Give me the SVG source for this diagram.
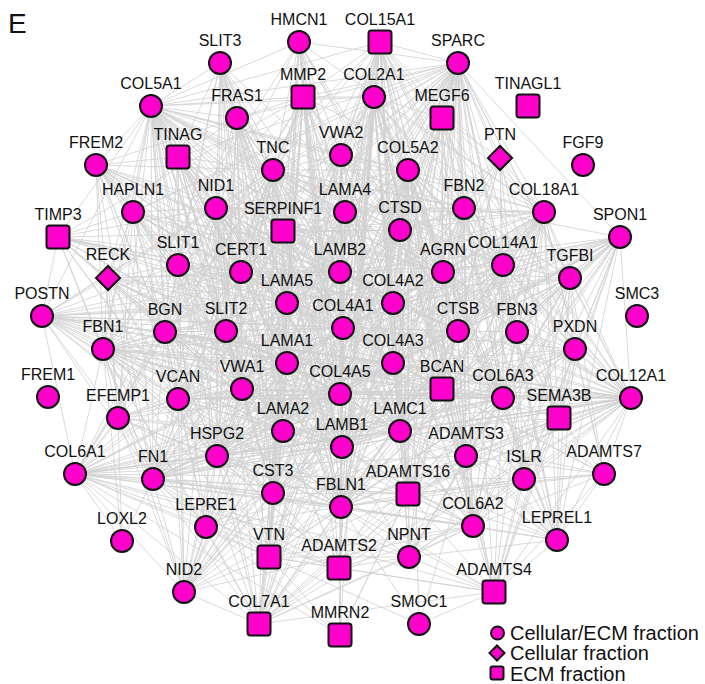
<svg xmlns="http://www.w3.org/2000/svg" xmlns:xlink="http://www.w3.org/1999/xlink" width="705" height="684" viewBox="0 0 705 684">
<style>
.edges path{fill:none;stroke:#d0d0d0;stroke-width:0.8}
.shape{fill:#ff00cc;stroke:#111;stroke-width:2}
.lbl{font-family:"Liberation Sans",Arial,sans-serif;font-size:16px;fill:#111;text-anchor:middle}
.leg{font-family:"Liberation Sans",Arial,sans-serif;font-size:20px;fill:#111}
</style>
<defs>
<circle id="c" class="shape" r="11"/>
<rect id="s" class="shape" x="-11.5" y="-11.5" width="23" height="23" rx="3"/>
<path id="d" class="shape" d="M0 -12L12 0L0 12L-12 0Z"/>
</defs>
<rect width="705" height="684" fill="#fff"/>
<text x="8" y="33" font-family="Liberation Sans, Arial, sans-serif" font-size="28" fill="#111">E</text>
<g id="edges" class="edges">
<path d="M220 63L151 106L299 42M380 42L151 106L458 63M303 97L151 106L374 97M237 118L151 106L96 165M178 157L151 106L273 170M341 155L151 106L408 170M133 212L151 106L216 208M345 212L151 106L464 208M544 212L151 106L283 231M400 230L151 106L178 265M241 272L151 106L340 272M443 272L151 106L503 265M287 303L151 106L393 303M165 332L151 106L226 331M343 328L151 106L458 331M103 349L151 106L287 363M393 363L151 106L178 399M242 389L151 106L340 394M442 389L151 106L503 398M631 398L151 106L283 431M400 431L151 106L342 447M153 479L151 106L217 456M273 493L151 106L341 507M206 527L151 106L473 526M269 557L151 106L339 568M184 592L151 106L259 624M58 237L151 106L108 278M42 316L151 106L118 418"/>
<path d="M380 42L458 63L374 97M442 118L458 63L408 170M341 155L458 63L303 97M299 42L458 63L273 170M237 118L458 63L216 208M345 212L458 63L464 208M544 212L458 63L400 230M283 231L458 63L241 272M340 272L458 63L443 272M503 265L458 63L570 278M287 303L458 63L393 303M343 328L458 63L458 331M517 332L458 63L575 349M287 363L458 63L393 363M340 394L458 63L442 389M503 398L458 63L631 398M559 418L458 63L283 431M400 431L458 63L342 447M466 456L458 63L524 479M217 456L458 63L341 507M408 494L458 63L473 526M557 540L458 63L269 557M409 557L458 63L494 592M153 479L458 63L165 332M178 399L458 63L226 331M242 389L458 63L500 158M620 237L458 63L178 157M133 212L458 63L103 349"/>
<path d="M237 118L220 63L178 157M273 170L220 63L216 208M283 231L220 63L241 272M178 265L220 63L226 331M287 303L220 63L340 272M287 363L220 63L343 328M217 456L220 63L443 272M242 389L220 63L283 431M342 447L220 63L400 431M393 303L220 63L165 332M273 493L220 63L341 507"/>
<path d="M303 97L299 42L273 170M341 155L299 42L345 212M283 231L299 42L340 272M343 328L299 42L287 303M287 363L299 42L341 507M342 447L299 42L340 394M400 431L299 42L216 208M103 349L299 42L544 212M400 230L299 42L443 272M269 557L299 42L503 398"/>
<path d="M374 97L380 42L303 97M341 155L380 42L408 170M345 212L380 42L442 118M464 208L380 42L400 230M340 272L380 42L443 272M393 303L380 42L343 328M393 363L380 42L458 331M340 394L380 42L442 389M400 431L380 42L342 447M283 431L380 42L287 363M216 208L380 42L544 212M503 265L380 42L517 332M408 494L380 42L341 507M503 398L380 42L631 398M217 456L380 42L184 592M339 568L380 42L473 526M269 557L380 42L273 170M380 42L283 231"/>
<path d="M273 170L303 97L341 155M374 97L303 97L237 118M345 212L303 97L283 231M241 272L303 97L340 272M287 303L303 97L343 328M393 303L303 97L287 363M340 394L303 97L393 363M153 479L303 97L217 456M273 493L303 97L341 507M269 557L303 97L165 332M178 399L303 97L58 237M108 278L303 97L544 212M400 230L303 97L443 272M75 474L303 97L259 624M339 568L303 97L226 331M303 97L342 447"/>
<path d="M341 155L374 97L408 170M442 118L374 97L345 212M400 230L374 97L464 208M443 272L374 97L393 303M343 328L374 97L340 272M458 331L374 97L393 363M340 394L374 97L442 389M400 431L374 97L342 447M283 431L374 97L503 398M631 398L374 97L503 265M544 212L374 97L466 456M473 526L374 97L408 494M341 507L374 97L339 568M340 635L374 97L409 557M133 212L374 97L178 399M165 332L374 97L75 474M259 624L374 97L153 479M559 418L374 97L557 540M374 97L494 592"/>
<path d="M178 157L237 118L273 170M216 208L237 118L96 165M283 231L237 118L241 272M178 265L237 118L287 303M340 272L237 118L343 328M287 363L237 118L226 331M242 389L237 118L283 431M217 456L237 118L340 394M400 431L237 118L342 447M443 272L237 118L273 493"/>
<path d="M408 170L442 118L464 208M400 230L442 118L443 272M393 303L442 118L503 265M458 331L442 118L517 332M393 363L442 118L442 389M503 398L442 118L400 431M544 212L442 118L500 158M631 398L442 118L466 456"/>
<path d="M178 157L96 165L133 212M216 208L96 165L178 265M241 272L96 165L287 303M340 272L96 165L343 328M393 303L96 165L287 363M165 332L96 165L226 331M103 349L96 165L178 399M242 389L96 165L283 431M340 394L96 165L342 447M400 431L96 165L217 456M153 479L96 165L443 272M458 331L96 165L503 398M273 170L96 165L118 418"/>
<path d="M273 170L178 157L216 208M133 212L178 157L283 231M241 272L178 157L178 265M287 303L178 157L340 272M343 328L178 157L287 363M393 303L178 157L165 332M226 331L178 157L242 389M283 431L178 157L342 447M400 431L178 157L217 456M340 394L178 157L393 363M341 507L178 157L273 493M443 272L178 157L184 592"/>
<path d="M341 155L273 170L216 208M345 212L273 170L283 231M241 272L273 170L340 272M287 303L273 170L343 328M226 331L273 170L287 363M165 332L273 170L178 399M242 389L273 170L340 394M283 431L273 170L153 479M217 456L273 170L273 493M341 507L273 170L408 170M400 230L273 170L443 272M503 265L273 170L631 398M503 398L273 170L620 237M570 278L273 170L42 316M103 349L273 170L342 447M184 592L273 170L269 557M259 624L273 170L339 568M524 479L273 170L75 474M473 526L273 170L464 208"/>
<path d="M345 212L341 155L283 231M340 272L341 155L400 230M408 170L341 155L343 328M393 303L341 155L287 303M287 363L341 155L393 363M340 394L341 155L283 431M342 447L341 155L400 431M341 507L341 155L443 272M503 398L341 155L473 526M631 398L341 155L503 265M217 456L341 155L216 208"/>
<path d="M345 212L408 170L464 208M400 230L408 170L443 272M503 265L408 170L393 303M340 272L408 170L343 328M458 331L408 170L517 332M393 363L408 170L340 394M442 389L408 170L503 398M400 431L408 170L342 447M283 431L408 170L466 456M524 479L408 170L408 494M341 507L408 170L473 526M409 557L408 170L339 568M269 557L408 170L153 479M165 332L408 170L631 398M559 418L408 170L575 349M570 278L408 170L544 212M557 540L408 170L494 592M259 624L408 170L273 493M419 624L408 170L217 456M178 399L408 170L103 349M216 208L408 170L287 303"/>
<path d="M464 208L500 158L544 212M503 265L500 158L443 272M458 331L500 158L517 332M393 303L500 158L442 389M503 398L500 158L559 418M217 456L500 158L400 230M400 431L500 158L570 278"/>
<path d="M216 208L133 212L178 265M241 272L133 212L165 332M178 399L133 212L226 331M287 303L133 212L343 328M287 363L133 212L242 389M283 431L133 212L217 456M153 479L133 212L103 349M442 389L133 212L443 272M393 303L133 212L340 272M118 418L133 212L341 507M108 278L133 212L58 237"/>
<path d="M283 231L216 208L241 272M178 265L216 208L287 303M340 272L216 208L345 212M343 328L216 208L393 303M287 363L216 208L393 363M340 394L216 208L226 331M165 332L216 208L242 389M283 431L216 208L342 447M400 431L216 208L217 456M153 479L216 208L341 507M443 272L216 208L273 493M184 592L216 208L269 557M103 349L216 208L108 278M75 474L216 208L206 527M400 230L216 208L544 212M458 331L216 208L503 265M464 208L216 208L503 398M442 389L216 208L408 494M473 526L216 208L259 624M58 237L216 208L42 316M118 418L216 208L178 399"/>
<path d="M283 231L345 212L400 230M340 272L345 212L287 303M343 328L345 212L393 303M443 272L345 212L241 272M287 363L345 212L393 363M340 394L345 212L283 431M342 447L345 212L400 431M341 507L345 212L217 456M184 592L345 212L544 212M464 208L345 212L242 389M226 331L345 212L442 389M458 331L345 212L408 494M345 212L273 493"/>
<path d="M400 230L464 208L443 272M503 265L464 208L544 212M393 303L464 208L458 331M517 332L464 208L393 363M442 389L464 208L503 398M400 431L464 208L103 349M341 507L464 208L466 456M473 526L464 208L524 479M570 278L464 208L575 349M559 418L464 208L557 540M631 398L464 208L408 494M409 557L464 208L342 447M343 328L464 208L340 272"/>
<path d="M503 265L544 212L443 272M458 331L544 212L517 332M393 303L544 212L400 230M570 278L544 212L575 349M343 328L544 212L393 363M340 394L544 212L442 389M503 398L544 212L631 398M559 418L544 212L400 431M342 447L544 212L283 431M466 456L544 212L524 479M604 474L544 212L473 526M557 540L544 212L408 494M341 507L544 212L409 557M494 592L544 212L339 568M269 557L544 212L217 456M153 479L544 212L340 272M287 303L544 212L287 363M273 493L544 212L419 624M283 231L544 212L184 592M259 624L544 212L340 635"/>
<path d="M108 278L58 237L178 265M165 332L58 237L103 349M42 316L58 237L241 272M287 303L58 237L343 328M178 399L58 237L226 331M287 363L58 237L242 389M153 479L58 237L217 456M340 272L58 237L400 230M393 303L58 237L458 331M58 237L283 431"/>
<path d="M241 272L283 231L340 272M287 303L283 231L343 328M393 303L283 231L226 331M287 363L283 231L393 363M242 389L283 231L340 394M283 431L283 231L342 447M400 431L283 231L217 456M273 493L283 231L341 507M400 230L283 231L443 272M165 332L283 231L153 479"/>
<path d="M340 272L400 230L443 272M393 303L400 230L343 328M458 331L400 230L393 363M340 394L400 230L442 389M400 431L400 230L342 447M283 431L400 230L287 363M287 303L400 230L503 265M517 332L400 230L503 398M466 456L400 230L408 494M341 507L400 230L273 493M400 230L217 456"/>
<path d="M503 265L620 237L570 278M517 332L620 237L575 349M458 331L620 237L443 272M393 303L620 237L343 328M393 363L620 237L442 389M503 398L620 237L559 418M631 398L620 237L400 431M342 447L620 237L340 394M283 431L620 237L466 456M524 479L620 237L473 526M341 507L620 237L408 494M557 540L620 237L494 592M409 557L620 237L287 363M287 303L620 237L340 272M217 456L620 237L153 479M273 493L620 237L242 389"/>
<path d="M178 265L108 278L165 332M103 349L108 278L241 272M287 303L108 278L226 331M343 328L108 278L287 363M178 399L108 278L242 389M283 431L108 278L217 456M153 479L108 278L42 316M118 418L108 278L393 303M340 272L108 278L393 363M340 394L108 278L342 447M108 278L400 431"/>
<path d="M241 272L178 265L165 332M226 331L178 265L287 303M340 272L178 265L343 328M287 363L178 265L242 389M283 431L178 265L217 456M103 349L178 265L178 399M393 303L178 265L342 447"/>
<path d="M340 272L241 272L287 303M226 331L241 272L343 328M287 363L241 272L242 389M165 332L241 272L393 303"/>
<path d="M287 303L340 272L343 328M393 303L340 272L443 272M287 363L340 272L393 363M340 394L340 272L283 431M342 447L340 272L400 431M217 456L340 272L341 507M184 592L340 272L458 331M340 272L503 265"/>
<path d="M393 303L443 272L343 328M458 331L443 272L503 265M517 332L443 272L393 363M442 389L443 272L503 398M400 431L443 272L342 447M283 431L443 272L287 363M287 303L443 272L217 456M466 456L443 272L473 526M341 507L443 272L631 398M570 278L443 272L575 349M443 272L184 592"/>
<path d="M458 331L503 265L517 332M570 278L503 265L575 349M393 303L503 265L343 328M393 363L503 265L442 389M503 398L503 265L631 398M559 418L503 265L400 431M466 456L503 265L524 479M473 526L503 265L557 540M341 507L503 265L408 494M340 394L503 265L342 447"/>
<path d="M517 332L570 278L575 349M458 331L570 278L393 303M343 328L570 278L503 398M631 398L570 278L559 418M442 389L570 278L466 456M524 479L570 278L473 526M557 540L570 278L341 507M400 431L570 278L153 479M393 363L570 278L409 557M494 592L570 278L604 474M570 278L342 447"/>
<path d="M343 328L287 303L393 303M287 363L287 303L226 331M393 363L287 303L340 394M242 389L287 303L283 431M342 447L287 303L400 431M217 456L287 303L341 507M273 493L287 303L184 592M153 479L287 303L165 332M178 399L287 303L103 349"/>
<path d="M343 328L393 303L393 363M340 394L393 303L458 331M287 363L393 303L442 389M400 431L393 303L342 447M283 431L393 303L503 398M466 456L393 303L217 456M341 507L393 303L184 592M473 526L393 303L408 494"/>
<path d="M103 349L42 316L165 332M178 265L42 316L241 272M226 331L42 316L287 303M343 328L42 316L287 363M178 399L42 316L118 418M242 389L42 316L283 431M217 456L42 316L153 479M75 474L42 316L393 303M340 272L42 316L393 363M340 394L42 316L342 447M400 431L42 316L458 331M442 389L42 316L570 278M631 398L42 316L341 507M42 316L273 493"/>
<path d="M165 332L103 349L226 331M178 399L103 349L118 418M242 389L103 349L287 363M343 328L103 349L283 431M217 456L103 349L153 479M75 474L103 349L206 527M341 507L103 349L273 493M342 447L103 349L400 431M340 394L103 349L393 363M122 541L103 349L184 592M269 557L103 349L339 568M259 624L103 349L503 398M442 389L103 349L458 331M631 398L103 349L494 592M466 456L103 349L473 526"/>
<path d="M226 331L165 332L178 399M242 389L165 332L287 363M343 328L165 332L283 431M217 456L165 332L153 479M118 418L165 332L75 474M273 493L165 332L341 507M206 527L165 332L342 447M340 394L165 332L393 303M393 363L165 332L400 431M442 389L165 332L503 398M165 332L631 398"/>
<path d="M287 363L226 331L242 389M343 328L226 331L283 431M217 456L226 331L178 399M153 479L226 331L340 394M273 493L226 331L342 447"/>
<path d="M393 363L343 328L340 394M287 363L343 328L283 431M342 447L343 328L400 431M458 331L343 328L442 389M217 456L343 328L341 507M273 493L343 328L242 389M184 592L343 328L153 479M269 557L343 328L503 398"/>
<path d="M517 332L458 331L393 363M442 389L458 331L503 398M400 431L458 331L466 456M340 394L458 331L342 447M341 507L458 331L408 494M458 331L273 493"/>
<path d="M575 349L517 332L503 398M559 418L517 332L442 389M466 456L517 332L524 479M631 398L517 332L473 526M557 540L517 332L341 507"/>
<path d="M631 398L575 349L559 418M503 398L575 349L524 479M604 474L575 349L466 456M473 526L575 349L557 540M442 389L575 349L393 363M340 394L575 349L400 431M342 447L575 349L341 507M494 592L575 349L343 328"/>
<path d="M393 363L287 363L242 389M340 394L287 363L283 431M342 447L287 363L400 431M217 456L287 363L273 493M341 507L287 363L153 479M178 399L287 363L184 592M206 527L287 363L269 557"/>
<path d="M340 394L393 363L442 389M400 431L393 363L342 447M283 431L393 363L503 398M466 456L393 363L341 507M408 494L393 363L217 456M393 363L184 592"/>
<path d="M242 389L178 399L118 418M283 431L178 399L217 456M153 479L178 399L75 474M273 493L178 399L341 507M206 527L178 399L340 394M342 447L178 399L269 557M184 592L178 399L259 624M442 389L178 399L503 398M631 398L178 399L400 431M178 399L393 363"/>
<path d="M242 389L118 418L217 456M153 479L118 418L75 474M206 527L118 418L341 507M283 431L118 418L273 493M342 447L118 418L340 394M343 328L118 418L287 363M269 557L118 418L184 592M118 418L122 541"/>
<path d="M283 431L242 389L217 456M340 394L242 389L342 447M273 493L242 389L341 507M206 527L242 389L153 479M503 398L242 389L75 474M242 389L473 526"/>
<path d="M283 431L340 394L342 447M400 431L340 394L442 389M217 456L340 394L341 507M273 493L340 394L184 592M269 557L340 394L503 398"/>
<path d="M503 398L442 389L400 431M466 456L442 389L342 447M341 507L442 389L408 494M524 479L442 389L473 526M217 456L442 389L494 592"/>
<path d="M631 398L503 398L559 418M466 456L503 398L524 479M604 474L503 398L473 526M557 540L503 398L75 474M341 507L503 398L408 494M400 431L503 398L409 557M494 592L503 398L217 456M153 479L503 398L269 557M259 624L503 398L342 447"/>
<path d="M559 418L631 398L524 479M604 474L631 398L473 526M557 540L631 398L466 456M400 431L631 398L342 447M442 389L631 398L341 507M408 494L631 398L393 363M340 394L631 398L283 431M343 328L631 398L217 456M153 479L631 398L242 389M273 493L631 398L287 363M75 474L631 398L259 624M494 592L631 398L409 557M269 557L631 398L339 568M206 527L631 398L393 303M287 303L631 398L340 272"/>
<path d="M524 479L559 418L604 474M473 526L559 418L557 540M466 456L559 418L400 431M442 389L559 418L341 507M408 494L559 418L494 592"/>
<path d="M342 447L283 431L400 431M217 456L283 431L273 493M341 507L283 431L206 527M269 557L283 431L184 592M153 479L283 431L75 474M259 624L283 431L339 568"/>
<path d="M342 447L400 431L466 456M341 507L400 431L408 494M217 456L400 431L184 592M473 526L400 431L409 557M269 557L400 431L273 493"/>
<path d="M217 456L342 447L273 493M341 507L342 447L408 494M184 592L342 447L269 557M339 568L342 447L409 557M473 526L342 447L206 527M342 447L259 624"/>
<path d="M524 479L466 456L473 526M408 494L466 456L557 540M341 507L466 456L339 568M409 557L466 456L494 592"/>
<path d="M473 526L524 479L557 540M408 494L524 479L341 507M494 592L524 479L409 557"/>
<path d="M557 540L604 474L473 526M524 479L604 474L466 456M408 494L604 474L400 431M341 507L604 474L494 592M442 389L604 474L393 363"/>
<path d="M153 479L75 474L217 456M273 493L75 474L206 527M341 507L75 474L122 541M184 592L75 474L269 557M259 624L75 474L342 447M400 431L75 474L340 394M343 328L75 474L287 363M473 526L75 474L339 568M408 494L75 474L466 456M442 389L75 474L393 363M287 303L75 474L226 331M409 557L75 474L340 635M494 592L75 474L524 479"/>
<path d="M217 456L153 479L273 493M206 527L153 479L341 507M184 592L153 479L269 557M259 624L153 479L342 447M400 431L153 479L340 394M343 328L153 479L339 568M473 526L153 479L122 541M340 635L153 479L408 494M442 389L153 479L393 363"/>
<path d="M273 493L217 456L206 527M341 507L217 456L184 592M269 557L217 456L259 624M339 568L217 456L473 526M217 456L408 494"/>
<path d="M341 507L273 493L206 527M269 557L273 493L184 592M339 568L273 493L259 624M408 494L273 493L409 557"/>
<path d="M408 494L341 507L269 557M339 568L341 507L409 557M184 592L341 507L259 624M473 526L341 507L340 635M494 592L341 507L206 527"/>
<path d="M409 557L408 494L339 568M473 526L408 494L494 592M184 592L206 527L269 557M259 624L206 527L339 568M557 540L473 526L494 592M409 557L473 526L339 568M259 624L473 526L269 557M473 526L184 592"/>
<path d="M494 592L557 540L409 557M408 494L557 540L341 507M400 431L557 540L342 447M340 394L557 540L393 363M343 328L557 540L442 389"/>
<path d="M339 568L269 557L184 592M259 624L269 557L409 557M494 592L269 557L340 635M269 557L419 624"/>
<path d="M339 568L259 624L400 431M340 394L259 624L343 328M287 303L259 624L393 363M442 389L259 624L466 456M409 557L259 624L408 494M494 592L259 624L184 592"/>
<path d="M409 557L339 568L494 592M339 568L340 635M409 557L494 592M408 494L340 635L342 447M341 507L419 624L494 592"/>
</g>
<g id="SLIT3"><use xlink:href="#c" x="220" y="63"/><text class="lbl" x="220" y="46">SLIT3</text></g>
<g id="HMCN1"><use xlink:href="#c" x="299" y="42"/><text class="lbl" x="299" y="25">HMCN1</text></g>
<g id="COL15A1"><use xlink:href="#s" x="380" y="42"/><text class="lbl" x="380" y="25">COL15A1</text></g>
<g id="SPARC"><use xlink:href="#c" x="458" y="63"/><text class="lbl" x="458" y="46">SPARC</text></g>
<g id="COL5A1"><use xlink:href="#c" x="151" y="106"/><text class="lbl" x="151" y="89">COL5A1</text></g>
<g id="MMP2"><use xlink:href="#s" x="303" y="97"/><text class="lbl" x="303" y="80">MMP2</text></g>
<g id="COL2A1"><use xlink:href="#c" x="374" y="97"/><text class="lbl" x="374" y="80">COL2A1</text></g>
<g id="TINAGL1"><use xlink:href="#s" x="528" y="106"/><text class="lbl" x="528" y="89">TINAGL1</text></g>
<g id="FRAS1"><use xlink:href="#c" x="237" y="118"/><text class="lbl" x="237" y="101">FRAS1</text></g>
<g id="MEGF6"><use xlink:href="#s" x="442" y="118"/><text class="lbl" x="442" y="101">MEGF6</text></g>
<g id="FREM2"><use xlink:href="#c" x="96" y="165"/><text class="lbl" x="96" y="148">FREM2</text></g>
<g id="TINAG"><use xlink:href="#s" x="178" y="157"/><text class="lbl" x="178" y="140">TINAG</text></g>
<g id="TNC"><use xlink:href="#c" x="273" y="170"/><text class="lbl" x="273" y="153">TNC</text></g>
<g id="VWA2"><use xlink:href="#c" x="341" y="155"/><text class="lbl" x="341" y="138">VWA2</text></g>
<g id="COL5A2"><use xlink:href="#c" x="408" y="170"/><text class="lbl" x="408" y="153">COL5A2</text></g>
<g id="PTN"><use xlink:href="#d" x="500" y="158"/><text class="lbl" x="500" y="140">PTN</text></g>
<g id="FGF9"><use xlink:href="#c" x="583" y="165"/><text class="lbl" x="583" y="148">FGF9</text></g>
<g id="HAPLN1"><use xlink:href="#c" x="133" y="212"/><text class="lbl" x="133" y="195">HAPLN1</text></g>
<g id="NID1"><use xlink:href="#c" x="216" y="208"/><text class="lbl" x="216" y="191">NID1</text></g>
<g id="LAMA4"><use xlink:href="#c" x="345" y="212"/><text class="lbl" x="345" y="195">LAMA4</text></g>
<g id="FBN2"><use xlink:href="#c" x="464" y="208"/><text class="lbl" x="464" y="191">FBN2</text></g>
<g id="COL18A1"><use xlink:href="#c" x="544" y="212"/><text class="lbl" x="544" y="195">COL18A1</text></g>
<g id="TIMP3"><use xlink:href="#s" x="58" y="237"/><text class="lbl" x="58" y="220">TIMP3</text></g>
<g id="SERPINF1"><use xlink:href="#s" x="283" y="231"/><text class="lbl" x="283" y="214">SERPINF1</text></g>
<g id="CTSD"><use xlink:href="#c" x="400" y="230"/><text class="lbl" x="400" y="213">CTSD</text></g>
<g id="SPON1"><use xlink:href="#c" x="620" y="237"/><text class="lbl" x="620" y="220">SPON1</text></g>
<g id="RECK"><use xlink:href="#d" x="108" y="278"/><text class="lbl" x="108" y="260">RECK</text></g>
<g id="SLIT1"><use xlink:href="#c" x="178" y="265"/><text class="lbl" x="178" y="248">SLIT1</text></g>
<g id="CERT1"><use xlink:href="#c" x="241" y="272"/><text class="lbl" x="241" y="255">CERT1</text></g>
<g id="LAMB2"><use xlink:href="#c" x="340" y="272"/><text class="lbl" x="340" y="255">LAMB2</text></g>
<g id="AGRN"><use xlink:href="#c" x="443" y="272"/><text class="lbl" x="443" y="255">AGRN</text></g>
<g id="COL14A1"><use xlink:href="#c" x="503" y="265"/><text class="lbl" x="503" y="248">COL14A1</text></g>
<g id="TGFBI"><use xlink:href="#c" x="570" y="278"/><text class="lbl" x="570" y="261">TGFBI</text></g>
<g id="LAMA5"><use xlink:href="#c" x="287" y="303"/><text class="lbl" x="287" y="286">LAMA5</text></g>
<g id="COL4A2"><use xlink:href="#c" x="393" y="303"/><text class="lbl" x="393" y="286">COL4A2</text></g>
<g id="POSTN"><use xlink:href="#c" x="42" y="316"/><text class="lbl" x="42" y="299">POSTN</text></g>
<g id="SMC3"><use xlink:href="#c" x="637" y="316"/><text class="lbl" x="637" y="299">SMC3</text></g>
<g id="FBN1"><use xlink:href="#c" x="103" y="349"/><text class="lbl" x="103" y="332">FBN1</text></g>
<g id="BGN"><use xlink:href="#c" x="165" y="332"/><text class="lbl" x="165" y="315">BGN</text></g>
<g id="SLIT2"><use xlink:href="#c" x="226" y="331"/><text class="lbl" x="226" y="314">SLIT2</text></g>
<g id="COL4A1"><use xlink:href="#c" x="343" y="328"/><text class="lbl" x="343" y="311">COL4A1</text></g>
<g id="CTSB"><use xlink:href="#c" x="458" y="331"/><text class="lbl" x="458" y="314">CTSB</text></g>
<g id="FBN3"><use xlink:href="#c" x="517" y="332"/><text class="lbl" x="517" y="315">FBN3</text></g>
<g id="PXDN"><use xlink:href="#c" x="575" y="349"/><text class="lbl" x="575" y="332">PXDN</text></g>
<g id="LAMA1"><use xlink:href="#c" x="287" y="363"/><text class="lbl" x="287" y="346">LAMA1</text></g>
<g id="COL4A3"><use xlink:href="#c" x="393" y="363"/><text class="lbl" x="393" y="346">COL4A3</text></g>
<g id="FREM1"><use xlink:href="#c" x="48" y="397"/><text class="lbl" x="48" y="380">FREM1</text></g>
<g id="VCAN"><use xlink:href="#c" x="178" y="399"/><text class="lbl" x="178" y="382">VCAN</text></g>
<g id="EFEMP1"><use xlink:href="#c" x="118" y="418"/><text class="lbl" x="118" y="401">EFEMP1</text></g>
<g id="VWA1"><use xlink:href="#c" x="242" y="389"/><text class="lbl" x="242" y="372">VWA1</text></g>
<g id="COL4A5"><use xlink:href="#c" x="340" y="394"/><text class="lbl" x="340" y="377">COL4A5</text></g>
<g id="BCAN"><use xlink:href="#s" x="442" y="389"/><text class="lbl" x="442" y="372">BCAN</text></g>
<g id="COL6A3"><use xlink:href="#c" x="503" y="398"/><text class="lbl" x="503" y="381">COL6A3</text></g>
<g id="COL12A1"><use xlink:href="#c" x="631" y="398"/><text class="lbl" x="631" y="381">COL12A1</text></g>
<g id="SEMA3B"><use xlink:href="#s" x="559" y="418"/><text class="lbl" x="559" y="401">SEMA3B</text></g>
<g id="LAMA2"><use xlink:href="#c" x="283" y="431"/><text class="lbl" x="283" y="414">LAMA2</text></g>
<g id="LAMC1"><use xlink:href="#c" x="400" y="431"/><text class="lbl" x="400" y="414">LAMC1</text></g>
<g id="LAMB1"><use xlink:href="#c" x="342" y="447"/><text class="lbl" x="342" y="430">LAMB1</text></g>
<g id="ADAMTS3"><use xlink:href="#c" x="466" y="456"/><text class="lbl" x="466" y="439">ADAMTS3</text></g>
<g id="ISLR"><use xlink:href="#c" x="524" y="479"/><text class="lbl" x="524" y="462">ISLR</text></g>
<g id="ADAMTS7"><use xlink:href="#c" x="604" y="474"/><text class="lbl" x="604" y="457">ADAMTS7</text></g>
<g id="COL6A1"><use xlink:href="#c" x="75" y="474"/><text class="lbl" x="75" y="457">COL6A1</text></g>
<g id="FN1"><use xlink:href="#c" x="153" y="479"/><text class="lbl" x="153" y="462">FN1</text></g>
<g id="HSPG2"><use xlink:href="#c" x="217" y="456"/><text class="lbl" x="217" y="439">HSPG2</text></g>
<g id="CST3"><use xlink:href="#c" x="273" y="493"/><text class="lbl" x="273" y="476">CST3</text></g>
<g id="FBLN1"><use xlink:href="#c" x="341" y="507"/><text class="lbl" x="341" y="490">FBLN1</text></g>
<g id="ADAMTS16"><use xlink:href="#s" x="408" y="494"/><text class="lbl" x="408" y="477">ADAMTS16</text></g>
<g id="LEPRE1"><use xlink:href="#c" x="206" y="527"/><text class="lbl" x="206" y="510">LEPRE1</text></g>
<g id="COL6A2"><use xlink:href="#c" x="473" y="526"/><text class="lbl" x="473" y="509">COL6A2</text></g>
<g id="LEPREL1"><use xlink:href="#c" x="557" y="540"/><text class="lbl" x="557" y="523">LEPREL1</text></g>
<g id="LOXL2"><use xlink:href="#c" x="122" y="541"/><text class="lbl" x="122" y="524">LOXL2</text></g>
<g id="VTN"><use xlink:href="#s" x="269" y="557"/><text class="lbl" x="269" y="540">VTN</text></g>
<g id="ADAMTS2"><use xlink:href="#s" x="339" y="568"/><text class="lbl" x="339" y="551">ADAMTS2</text></g>
<g id="NPNT"><use xlink:href="#c" x="409" y="557"/><text class="lbl" x="409" y="540">NPNT</text></g>
<g id="ADAMTS4"><use xlink:href="#s" x="494" y="592"/><text class="lbl" x="494" y="575">ADAMTS4</text></g>
<g id="NID2"><use xlink:href="#c" x="184" y="592"/><text class="lbl" x="184" y="575">NID2</text></g>
<g id="COL7A1"><use xlink:href="#s" x="259" y="624"/><text class="lbl" x="259" y="607">COL7A1</text></g>
<g id="MMRN2"><use xlink:href="#s" x="340" y="635"/><text class="lbl" x="340" y="618">MMRN2</text></g>
<g id="SMOC1"><use xlink:href="#c" x="419" y="624"/><text class="lbl" x="419" y="607">SMOC1</text></g>
<g id="legend">
<circle class="shape" cx="497.5" cy="633" r="6.5" stroke-width="1.8"/>
<text class="leg" x="510" y="640">Cellular/ECM fraction</text>
<path class="shape" d="M497 645.5L504.5 653L497 660.5L489.5 653Z" stroke-width="1.8"/>
<text class="leg" x="510" y="660">Cellular fraction</text>
<rect class="shape" x="490.5" y="666.5" width="13" height="13" rx="2" stroke-width="1.8"/>
<text class="leg" x="510" y="681">ECM fraction</text>
</g>
</svg>
